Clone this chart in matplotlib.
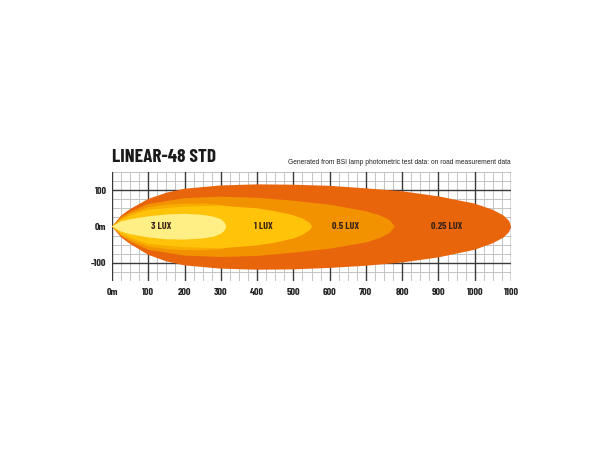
import matplotlib
matplotlib.use("Agg")
import matplotlib.pyplot as plt
import numpy as np

# ---- data (metres) ----
title = "LINEAR-48 STD"
subtitle = "Generated from BSI lamp photometric test data: on road measurement data"

x_ticks = [0, 100, 200, 300, 400, 500, 600, 700, 800, 900, 1000, 1100]
x_tick_labels = ["0m", "100", "200", "300", "400", "500", "600", "700", "800", "900", "1000", "1100"]
y_ticks = [100, 0, -100]
y_tick_labels = ["100", "0m", "-100"]

# 0.25 lux contour
lux025_x = [0, 25, 50, 100, 150, 200, 300, 400, 500, 600, 700, 800, 900, 1000, 1050, 1080, 1095, 1100]
lux025_top = [0, 30, 48, 76, 93, 104, 113, 116, 115, 112, 105, 97, 83, 63, 46, 30, 15, 0]
lux025_bot = [0, -30, -48, -78, -96, -107, -116, -119, -118, -114, -108, -99, -85, -64, -46, -30, -15, 0]

# 0.5 lux contour
lux05_x = [0, 25, 50, 100, 200, 300, 400, 500, 600, 700, 740, 765, 780]
lux05_top = [0, 25, 40, 62, 78, 82, 79, 71, 60, 42, 30, 18, 0]
lux05_bot = [0, -26, -42, -64, -80, -84, -81, -72, -61, -44, -31, -18, 0]

# intermediate band
lux075_x = [0, 25, 50, 100, 150, 200, 250, 300, 340, 370]
lux075_top = [0, 22, 35, 53, 60, 63, 63, 60, 52, 0]
lux075_bot = [0, -23, -37, -55, -62, -65, -65, -62, -53, 0]

# 1 lux contour
lux1_x = [0, 25, 50, 100, 200, 300, 400, 450, 500, 525, 545, 552]
lux1_top = [0, 18, 30, 46, 55, 57, 50, 42, 31, 22, 10, 0]
lux1_bot = [0, -19, -31, -48, -57, -60, -52, -44, -33, -23, -10, 0]

# 3 lux contour
lux3_x = [0, 25, 50, 100, 150, 200, 250, 280, 300, 310, 315]
lux3_top = [0, 14, 20, 28, 33, 35, 32, 27, 20, 12, 0]
lux3_bot = [0, -14, -21, -30, -35, -36, -33, -28, -20, -12, 0]

labels = ["3 LUX", "1 LUX", "0.5 LUX", "0.25 LUX"]
label_x = [135, 416, 645, 924]

COND = ["Barlow Condensed", "DejaVu Sans"]

# ---- figure ----
fig = plt.figure(figsize=(6.1, 4.5), dpi=100)
ax = fig.add_axes([112 / 610, 1 - 281 / 450, 399 / 610, 109 / 450])
ax.set_xlim(0, 1100)
ax.set_ylim(-150, 150)

# grid
for xv in np.arange(0, 1101, 25):
    if xv % 100:
        ax.axvline(xv, color="#c4c4c4", lw=0.7, zorder=0)
for yv in np.arange(-150, 151, 25):
    if yv % 100:
        ax.axhline(yv, color="#c4c4c4", lw=0.7, zorder=0)
for xv in np.arange(0, 1101, 100):
    ax.axvline(xv, color="#3a3a3a", lw=1.0, zorder=1)
for yv in [-100, 0, 100]:
    ax.axhline(yv, color="#3a3a3a", lw=1.0, zorder=1)

def band(xs, top, bot, color, z):
    xs = np.asarray(xs, float)
    ax.fill(np.concatenate([xs, xs[::-1]]), np.concatenate([top, bot[::-1]]),
            color=color, lw=0, zorder=z, antialiased=True)

band(lux025_x, lux025_top, lux025_bot, "#E9650C", 2)
band(lux05_x, lux05_top, lux05_bot, "#F39200", 3)
band(lux075_x, lux075_top, lux075_bot, "#F9AC00", 4)
band(lux1_x, lux1_top, lux1_bot, "#FFC40A", 5)
band(lux3_x, lux3_top, lux3_bot, "#FFEF84", 6)

lab_font = dict(family=COND, fontweight="bold")
for t, xv in zip(labels, label_x):
    ax.text(xv, 0, t, ha="center", va="center", fontsize=7.2, color="#3a2418", zorder=10, **lab_font)

for s in ax.spines.values():
    s.set_visible(False)
ax.tick_params(length=0, pad=5)
ax.set_xticks(x_ticks)
ax.set_xticklabels(x_tick_labels, fontsize=7.4, color="#222222", **lab_font)
ax.set_yticks(y_ticks)
ax.set_yticklabels(y_tick_labels, fontsize=7.4, color="#222222", **lab_font)
ax.tick_params(axis="y", pad=4)

fig.text(112 / 610, 1 - 158 / 450, title, ha="left", va="center", fontsize=13.8, color="#1a1a1a", **lab_font)
fig.text(511 / 610, 1 - 162 / 450, subtitle, ha="right", va="center", fontsize=4.75, color="#222222",
         family=["Liberation Sans", "DejaVu Sans"])

fig.savefig("out.png", dpi=100)
